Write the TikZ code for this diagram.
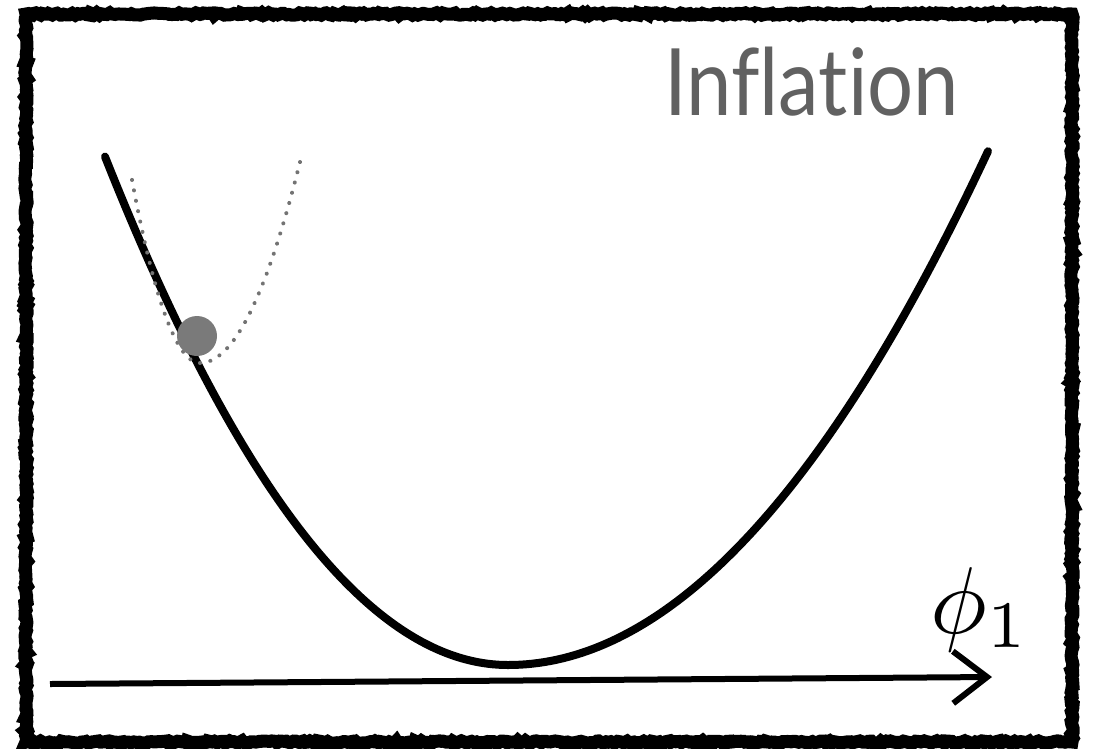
\documentclass[tikz,border=0pt]{standalone}
\usepackage{fontspec}
\newfontfamily\titlefont{Lato}[Ligatures=NoCommon]
\usetikzlibrary{arrows.meta,decorations.pathmorphing}

\begin{document}
\begin{tikzpicture}[x=1pt,y=-1pt,
	curve/.style={line width=8pt,line cap=round},
	guide/.style={black!55,line width=4pt,line cap=round,dash pattern=on 0.1pt off 10.5pt},
	frame/.style={line width=13pt,decorate,decoration={random steps,segment length=2.5pt,amplitude=1.2pt}}]
	\useasboundingbox (0,0) rectangle (1094,748);
	% rough frame
	\draw[frame] (26,14) rectangle (1072,742);
	% potential well, steeper on the left
	\draw[curve] plot[domain=105:508,samples=80] (\x,{665-31.3*((\x-508)/100)^2});
	\draw[curve] plot[domain=508:988,samples=80] (\x,{665-22.3*((\x-508)/100)^2});
	% dotted small well
	\draw[guide] plot[domain=132:200,samples=40] (\x,{363-3.96*((\x-200)/10)^2});
	\draw[guide] plot[domain=200:300,samples=40] (\x,{363-2.01*((\x-200)/10)^2});
	% ball
	\node[circle,fill=black!52,minimum size=40pt,inner sep=0pt] (ball) at (197,336) {};
	% axis
	\coordinate (axisL) at (50,684);
	\coordinate (axisR) at (992,677);
	\draw[line width=6pt,-{Straight Barb[length=34pt,width=52pt,line width=6pt]}] (axisL) -- (axisR);
	% labels
	\node[anchor=base,inner sep=0pt,scale=9.5] (field) at (980,633) {$\phi_1$};
	\node[anchor=base west,inner sep=0pt,text=black!62,xscale=0.875] (title) at (664,115) {\titlefont\fontsize{93}{100}\selectfont Inflation};
\end{tikzpicture}
\end{document}
